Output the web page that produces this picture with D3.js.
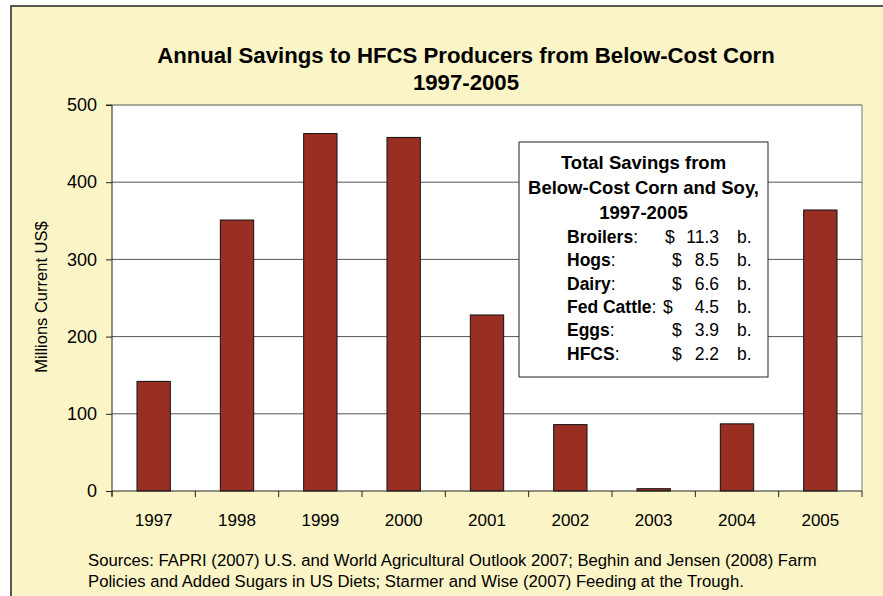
<!DOCTYPE html>
<html>
<head>
<meta charset="utf-8">
<script src="https://cdn.jsdelivr.net/npm/d3@7"></script>
<style>
  body { margin: 0; background: #fff; }
  text { font-family: "Liberation Sans", Arial, sans-serif; }
</style>
</head>
<body>
<svg id="chart"></svg>
<script>
// data
const years = ["1997", "1998", "1999", "2000", "2001", "2002", "2003", "2004", "2005"];
const savings = [142, 351, 463, 458, 228, 86, 3, 87, 364];
const yTicks = [0, 100, 200, 300, 400, 500];

const boxTitle = ["Total Savings from", "Below-Cost Corn and Soy,", "1997-2005"];
const boxNames = ["Broilers", "Hogs", "Dairy", "Fed Cattle", "Eggs", "HFCS"];
const boxValues = ["11.3", "8.5", "6.6", "4.5", "3.9", "2.2"];

const sources = [
  "Sources: FAPRI (2007) U.S. and World Agricultural Outlook 2007; Beghin and Jensen (2008) Farm",
  "Policies and Added Sugars in US Diets; Starmer and Wise (2007) Feeding at the Trough."
];

const W = 883, H = 596;
const plot = { left: 112, right: 862, top: 105, bottom: 491 };

let svg = d3.select("#chart")
  .attr("width", W)
  .attr("height", H);

// chart area, beige with border (runs off right/bottom)
svg.append("rect")
  .attr("x", 11).attr("y", 6)
  .attr("width", W + 10).attr("height", H + 10)
  .attr("fill", "#fbf4c6")
  .attr("stroke", "#222")
  .attr("stroke-width", 1.5);

// title
svg.selectAll(".title")
  .data(["Annual Savings to HFCS Producers from Below-Cost Corn", "1997-2005"])
  .enter().append("text")
  .attr("class", "title")
  .attr("x", 466)
  .attr("y", (d, i) => 63 + i * 27)
  .attr("text-anchor", "middle")
  .attr("font-weight", "bold")
  .attr("font-size", 22.2)
  .text(d => d);

let x = d3.scaleBand()
  .domain(years)
  .range([plot.left, plot.right])
  .paddingInner(0.6)
  .paddingOuter(0.3);

// category boundaries for tick marks
let band = (plot.right - plot.left) / years.length;

let y = d3.scaleLinear()
  .domain([0, 500])
  .range([plot.bottom, plot.top]);

// plot background
svg.append("rect")
  .attr("x", plot.left).attr("y", plot.top)
  .attr("width", plot.right - plot.left)
  .attr("height", plot.bottom - plot.top)
  .attr("fill", "#fff");

// gridlines
svg.append("g")
  .selectAll("line")
  .data(yTicks.slice(1))
  .enter().append("line")
  .attr("x1", plot.left).attr("x2", plot.right)
  .attr("y1", d => y(d)).attr("y2", d => y(d))
  .attr("stroke", "#555")
  .attr("stroke-width", 1);

// right border of plot
svg.append("line")
  .attr("x1", plot.right).attr("x2", plot.right)
  .attr("y1", plot.top).attr("y2", plot.bottom)
  .attr("stroke", "#777");

// bars
svg.append("g")
  .selectAll("rect")
  .data(savings)
  .enter().append("rect")
  .attr("x", (d, i) => x(years[i]))
  .attr("width", x.bandwidth())
  .attr("y", d => y(d))
  .attr("height", d => y(0) - y(d))
  .attr("fill", "#992e22")
  .attr("stroke", "#111")
  .attr("stroke-width", 1);

// y axis
let yAxis = svg.append("g")
  .attr("transform", `translate(${plot.left},0)`)
  .call(d3.axisLeft(y).tickValues(yTicks).tickSize(6).tickPadding(9));
yAxis.select(".domain").attr("stroke", "#222").attr("d", `M-6,${plot.top}H0V${plot.bottom + 5}`);
yAxis.selectAll(".tick line").attr("stroke", "#222");
yAxis.selectAll("text")
  .attr("font-size", 18)
  .attr("fill", "#000")
  .style("font-family", "Liberation Sans, Arial, sans-serif");

// x axis
let xAxis = svg.append("g")
  .attr("transform", `translate(0,${plot.bottom})`)
  .call(d3.axisBottom(x).tickSize(0).tickPadding(23));
xAxis.select(".domain").attr("stroke", "#222").attr("d", `M${plot.left},0H${plot.right}`);
xAxis.selectAll("text")
  .attr("font-size", 17)
  .attr("fill", "#000")
  .style("font-family", "Liberation Sans, Arial, sans-serif");
xAxis.selectAll(".sep")
  .data(d3.range(years.length + 1))
  .enter().append("line")
  .attr("class", "sep")
  .attr("x1", i => plot.left + i * band)
  .attr("x2", i => plot.left + i * band)
  .attr("y1", 0).attr("y2", 6)
  .attr("stroke", "#222");

// y axis title
svg.append("text")
  .attr("transform", "translate(47,297) rotate(-90)")
  .attr("text-anchor", "middle")
  .attr("font-size", 16.5)
  .text("Millions Current US$");

// text box
let box = svg.append("g");
box.append("rect")
  .attr("x", 519).attr("y", 142)
  .attr("width", 249).attr("height", 235)
  .attr("fill", "#fff")
  .attr("stroke", "#222")
  .attr("stroke-width", 1);

box.selectAll(".bt")
  .data(boxTitle)
  .enter().append("text")
  .attr("class", "bt")
  .attr("x", 643.5)
  .attr("y", (d, i) => 169 + i * 25)
  .attr("text-anchor", "middle")
  .attr("font-weight", "bold")
  .attr("font-size", 18.5)
  .text(d => d);

let rows = box.selectAll(".row")
  .data(boxNames)
  .enter().append("g")
  .attr("class", "row")
  .attr("transform", (d, i) => `translate(0,${243 + i * 23.3})`);

rows.append("text")
  .attr("x", 567)
  .attr("font-size", 17.5)
  .html(d => `<tspan font-weight="bold">${d}</tspan>:`);
// "$" sits where the typed spacing put it
rows.append("text")
  .attr("x", d => d === "Broilers" ? 665 : d === "Fed Cattle" ? 663 : 672)
  .attr("font-size", 17.5)
  .text("$");
rows.append("text")
  .attr("x", 719)
  .attr("text-anchor", "end")
  .attr("font-size", 17.5)
  .text((d, i) => boxValues[i]);
rows.append("text")
  .attr("x", 737)
  .attr("font-size", 17.5)
  .text("b.");

// sources
svg.selectAll(".src")
  .data(sources)
  .enter().append("text")
  .attr("class", "src")
  .attr("x", 88)
  .attr("y", (d, i) => 566 + i * 21)
  .attr("font-size", 16.7)
  .text(d => d);
</script>
</body>
</html>
